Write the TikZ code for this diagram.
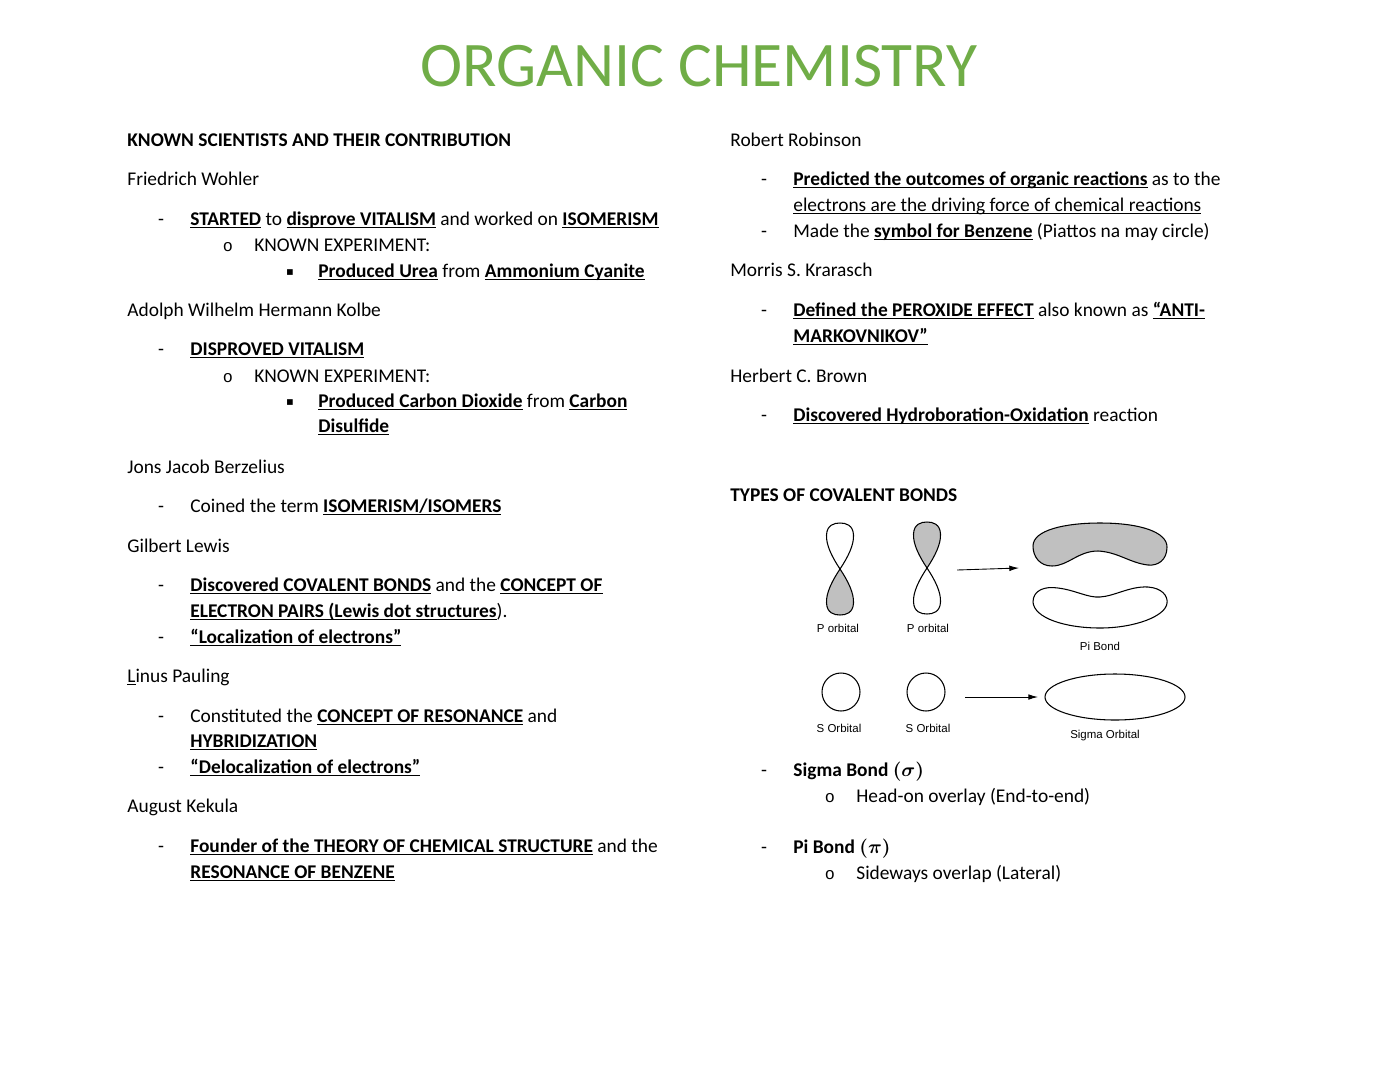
\documentclass[tikz,border=0pt]{standalone}
\usepackage{fontspec}
\setmainfont{Carlito}
\newfontfamily\arialfont{Liberation Sans}
\newfontfamily\symfont{DejaVu Sans}
\newfontfamily\ringfont{Liberation Mono}
\usetikzlibrary{arrows.meta}
\definecolor{titlegreen}{RGB}{112,173,71}
\definecolor{lobegray}{RGB}{192,192,192}
\newsavebox\ulbox
\newcommand\ul[1]{\sbox\ulbox{#1}\rlap{\rule[-1.8pt]{\wd\ulbox}{0.55pt}}\usebox\ulbox}

\tikzset{
  txt/.style={anchor=base west, inner sep=0pt},
  dashbul/.style={anchor=base, inner sep=0pt},
  ringbul/.style={anchor=base, inner sep=0pt, font=\ringfont\fontsize{9.5}{12}\selectfont},
  boxbul/.style={anchor=base, inner sep=0pt, yshift=1pt, font=\symfont\fontsize{6.5}{8}\selectfont},
  orblabel/.style={anchor=base, inner sep=0pt, font=\arialfont\fontsize{6.5}{8}\selectfont},
  orb/.style={draw, line width=0.6pt},
  bondarrow/.style={-{Latex[length=5.5pt,width=3.2pt]}, line width=0.5pt},
  lobe/.pic={\path[pic actions] (0,0) .. controls (-8,-12) and (-14,-24) .. (-13.5,-34)
    .. controls (-13,-44) and (-6,-46) .. (0,-46) .. controls (6,-46) and (13,-44) .. (13.5,-34)
    .. controls (14,-24) and (8,-12) .. (0,0) -- cycle;}
}

\begin{document}
\begin{tikzpicture}[x=0.5669pt, y=-0.5669pt, font=\fontsize{11}{13}\selectfont]
\useasboundingbox (0,0) rectangle (1397,1080);

\node[anchor=base, inner sep=0pt, text=titlegreen, font=\fontsize{36}{40}\selectfont] (title) at (699,86) {ORGANIC CHEMISTRY};

% left column
\node[txt] (hd) at (127,146) {\textbf{KNOWN SCIENTISTS AND THEIR CONTRIBUTION}};
\node[txt] (fw) at (127,185) {Friedrich Wohler};
\node[dashbul] (fwd1) at (161,225) {-};
\node[txt] (fw1) at (190,225) {\ul{\textbf{STARTED}} to \ul{\textbf{disprove VITALISM}} and worked on \ul{\textbf{ISOMERISM}}};
\node[ringbul] (fwo1) at (228,251) {o};
\node[txt] (fw2) at (254,251) {KNOWN EXPERIMENT:};
\node[boxbul] (fws1) at (290,277) {▪};
\node[txt] (fw3) at (318,277) {\ul{\textbf{Produced Urea}} from \ul{\textbf{Ammonium Cyanite}}};
\node[txt] (ak) at (127,316) {Adolph Wilhelm Hermann Kolbe};
\node[dashbul] (akd1) at (161,355) {-};
\node[txt] (ak1) at (190,355) {\ul{\textbf{DISPROVED VITALISM}}};
\node[ringbul] (ako1) at (228,382) {o};
\node[txt] (ak2) at (254,382) {KNOWN EXPERIMENT:};
\node[boxbul] (aks1) at (290,407) {▪};
\node[txt] (ak3) at (318,407) {\ul{\textbf{Produced Carbon Dioxide}} from \ul{\textbf{Carbon}}};
\node[txt] (ak4) at (318,432) {\ul{\textbf{Disulfide}}};
\node[txt] (jb) at (127,473) {Jons Jacob Berzelius};
\node[dashbul] (jbd1) at (161,512) {-};
\node[txt] (jb1) at (190,512) {Coined the term \ul{\textbf{ISOMERISM/ISOMERS}}};
\node[txt] (gl) at (127,552) {Gilbert Lewis};
\node[dashbul] (gld1) at (161,591) {-};
\node[txt] (gl1) at (190,591) {\ul{\textbf{Discovered COVALENT BONDS}} and the \ul{\textbf{CONCEPT OF}}};
\node[txt] (gl2) at (190,617) {\ul{\textbf{ELECTRON PAIRS (Lewis dot structures}}).};
\node[dashbul] (gld2) at (161,643) {-};
\node[txt] (gl3) at (190,643) {\ul{\textbf{“Localization of electrons”}}};
\node[txt] (lp) at (127,682) {\ul{L}inus Pauling};
\node[dashbul] (lpd1) at (161,722) {-};
\node[txt] (lp1) at (190,722) {Constituted the \ul{\textbf{CONCEPT OF RESONANCE}} and};
\node[txt] (lp2) at (190,747) {\ul{\textbf{HYBRIDIZATION}}};
\node[dashbul] (lpd2) at (161,773) {-};
\node[txt] (lp3) at (190,773) {\ul{\textbf{“Delocalization of electrons”}}};
\node[txt] (kk) at (127,812) {August Kekula};
\node[dashbul] (kkd1) at (161,852) {-};
\node[txt] (kk1) at (190,852) {\ul{\textbf{Founder of the THEORY OF CHEMICAL STRUCTURE}} and the};
\node[txt] (kk2) at (190,878) {\ul{\textbf{RESONANCE OF BENZENE}}};

% right column
\node[txt] (rr) at (730,146) {Robert Robinson};
\node[dashbul] (rrd1) at (764,185) {-};
\node[txt] (rr1) at (793,185) {\ul{\textbf{Predicted the outcomes of organic reactions}} as to the};
\node[txt] (rr2) at (793,211) {\ul{electrons are the driving force of chemical reactions}};
\node[dashbul] (rrd2) at (764,237) {-};
\node[txt] (rr3) at (793,237) {Made the \ul{\textbf{symbol for Benzene}} (Piattos na may circle)};
\node[txt] (mk) at (730,276) {Morris S. Krarasch};
\node[dashbul] (mkd1) at (764,316) {-};
\node[txt] (mk1) at (793,316) {\ul{\textbf{Defined the PEROXIDE EFFECT}} also known as \ul{\textbf{“ANTI-}}};
\node[txt] (mk2) at (793,342) {\ul{\textbf{MARKOVNIKOV”}}};
\node[txt] (hb) at (730,382) {Herbert C. Brown};
\node[dashbul] (hbd1) at (764,421) {-};
\node[txt] (hb1) at (793,421) {\ul{\textbf{Discovered Hydroboration-Oxidation}} reaction};
\node[txt] (cb) at (730,501) {\textbf{TYPES OF COVALENT BONDS}};

% orbitals
\pic[orb, fill=white] at (840,569) {lobe};
\pic[orb, fill=lobegray, yscale=-1] at (840,569) {lobe};
\pic[orb, fill=lobegray] at (927,568) {lobe};
\pic[orb, fill=white, yscale=-1] at (927,568) {lobe};
\node[orblabel] (p1) at (838,632) {P orbital};
\node[orblabel] (p2) at (928,632) {P orbital};
\coordinate (pa) at (957,570);
\coordinate (pb) at (1019,568);
\draw[bondarrow] (pa) -- (pb);
\draw[orb, fill=lobegray] (1033,546) .. controls (1033,530) and (1065,523) .. (1100,523)
  .. controls (1140,523) and (1167,532) .. (1167,547) .. controls (1167,560) and (1158,566) .. (1148,565)
  .. controls (1130,563) and (1118,552) .. (1098,551) .. controls (1078,551) and (1068,566) .. (1052,566)
  .. controls (1040,566) and (1033,557) .. cycle;
\draw[orb, fill=white] (1033,602) .. controls (1033,590) and (1045,586) .. (1058,588)
  .. controls (1075,590) and (1088,598) .. (1100,597) .. controls (1115,596) and (1130,586) .. (1148,587)
  .. controls (1162,588) and (1168,596) .. (1167,603) .. controls (1166,616) and (1135,628) .. (1100,628)
  .. controls (1065,628) and (1034,618) .. cycle;
\node[orblabel] (pib) at (1100,650) {Pi Bond};
\draw[orb] (841,692) circle[radius=19];
\draw[orb] (926,692) circle[radius=19];
\node[orblabel] (s1) at (839,732) {S Orbital};
\node[orblabel] (s2) at (928,732) {S Orbital};
\coordinate (sa) at (965,697);
\coordinate (sb) at (1038,697);
\draw[bondarrow] (sa) -- (sb);
\draw[orb] (1115,697) ellipse[x radius=70, y radius=23];
\node[orblabel] (sgo) at (1105,738) {Sigma Orbital};

\node[dashbul] (sgd) at (764,776) {-};
\node[txt] (sg) at (793,776) {\textbf{Sigma Bond} {\boldmath$(\sigma)$}};
\node[ringbul] (sgr) at (830,802) {o};
\node[txt] (sg1) at (856,802) {Head-on overlay (End-to-end)};
\node[dashbul] (pid) at (764,853) {-};
\node[txt] (pi) at (793,853) {\textbf{Pi Bond} {\boldmath$(\pi)$}};
\node[ringbul] (pir) at (830,879) {o};
\node[txt] (pi1) at (856,879) {Sideways overlap (Lateral)};
\end{tikzpicture}
\end{document}
